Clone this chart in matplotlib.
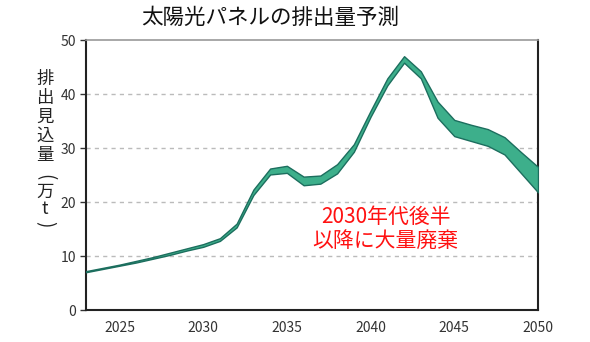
import matplotlib
matplotlib.use("Agg")
import matplotlib.pyplot as plt

plt.rcParams['font.family'] = ['Noto Sans CJK JP', 'DejaVu Sans']

years = list(range(2023, 2051))
lower = [7.0, 7.6, 8.2, 8.8, 9.5, 10.2, 11.0, 11.7, 12.8, 15.3, 21.3, 25.1, 25.4,
         23.1, 23.4, 25.3, 29.3, 35.8, 41.6, 45.8, 42.9, 35.6, 32.2, 31.3, 30.4, 28.8, 25.3, 21.8]
upper = [7.2, 7.8, 8.4, 9.1, 9.8, 10.6, 11.4, 12.2, 13.3, 16.0, 22.3, 26.2, 26.7,
         24.7, 24.9, 27.0, 30.7, 36.9, 42.9, 47.0, 44.2, 38.6, 35.2, 34.3, 33.5, 32.0, 29.2, 26.5]
xticks = [2025, 2030, 2035, 2040, 2045, 2050]
yticks = [0, 10, 20, 30, 40, 50]
title = "太陽光パネルの排出量予測"
ylabel_chars = ["排", "出", "見", "込", "量", "(", "万", "t", ")"]
note = "2030年代後半\n以降に大量廃棄"

W, H = 590, 342
fig = plt.figure(figsize=(W / 100, H / 100), dpi=100)
ax = fig.add_axes([86 / W, 1 - 310 / H, (538 - 86) / W, (310 - 40) / H])

ax.fill_between(years, lower, upper, facecolor='#3DAF8B', edgecolor='#1C6E5E', linewidth=1.0, zorder=3)

ax.set_xlim(2023, 2050)
ax.set_ylim(0, 50)
ax.set_xticks(xticks)
ax.set_yticks(yticks)
ax.tick_params(axis='x', length=0, pad=8, labelsize=10, labelcolor='#333333')
ax.tick_params(axis='y', length=4, width=1, direction='out', pad=3, labelsize=10,
               labelcolor='#333333', color='#333333')
for v in yticks[1:-1]:
    ax.axhline(v, color='#BBBBBB', linestyle=(0, (3, 3)), linewidth=1.0, zorder=1)

for s in ['left', 'bottom', 'right']:
    ax.spines[s].set_color('#222222')
    ax.spines[s].set_linewidth(1.5)
ax.spines['top'].set_color('#999999')
ax.spines['top'].set_linewidth(1.2)

fig.text(270 / W, 1 - 18 / H, title, ha='center', va='center', fontsize=15.5, color='#111111')

ys = [79, 98, 117, 136, 155, 177, 192, 209, 224]
for ch, y in zip(ylabel_chars, ys):
    rot = -90 if ch in "()" else 0
    fs = 13.5 if ch in "()" else 12.5
    fig.text(45 / W, 1 - y / H, ch, ha='center', va='center', fontsize=fs, color='#222222',
             rotation=rot)

ax.text(2040.9, 15.0, note, ha='center', va='center', fontsize=15, color='#FF1111',
        linespacing=1.1, zorder=4)

fig.savefig('out.png', dpi=100)
